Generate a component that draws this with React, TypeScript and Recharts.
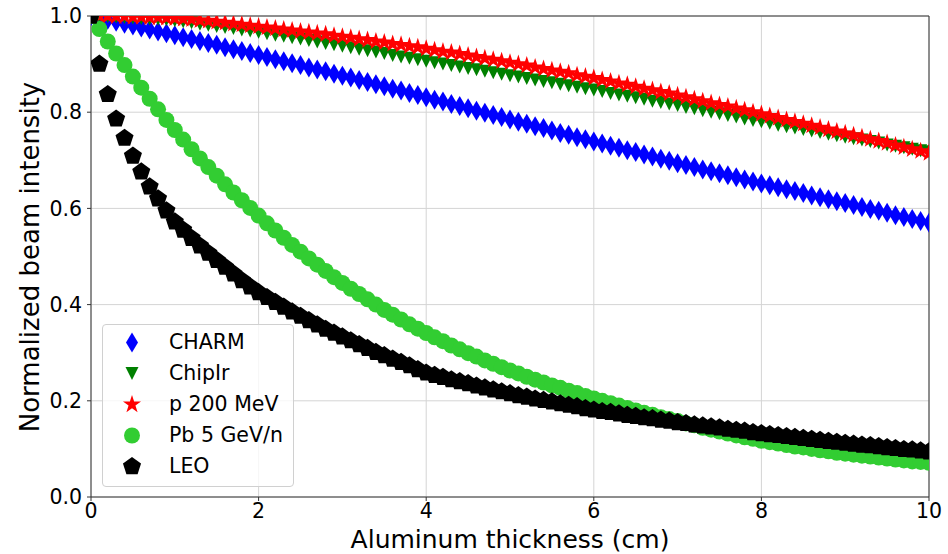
import React from "react";
import { ScatterChart, Scatter, XAxis, YAxis, CartesianGrid, ReferenceLine, Label } from "recharts";

// Aluminum thickness (cm), one point every 0.1 cm
const thickness = [
  0, 0.1, 0.2, 0.3, 0.4, 0.5, 0.6, 0.7, 0.8, 0.9,
  1, 1.1, 1.2, 1.3, 1.4, 1.5, 1.6, 1.7, 1.8, 1.9,
  2, 2.1, 2.2, 2.3, 2.4, 2.5, 2.6, 2.7, 2.8, 2.9,
  3, 3.1, 3.2, 3.3, 3.4, 3.5, 3.6, 3.7, 3.8, 3.9,
  4, 4.1, 4.2, 4.3, 4.4, 4.5, 4.6, 4.7, 4.8, 4.9,
  5, 5.1, 5.2, 5.3, 5.4, 5.5, 5.6, 5.7, 5.8, 5.9,
  6, 6.1, 6.2, 6.3, 6.4, 6.5, 6.6, 6.7, 6.8, 6.9,
  7, 7.1, 7.2, 7.3, 7.4, 7.5, 7.6, 7.7, 7.8, 7.9,
  8, 8.1, 8.2, 8.3, 8.4, 8.5, 8.6, 8.7, 8.8, 8.9,
  9, 9.1, 9.2, 9.3, 9.4, 9.5, 9.6, 9.7, 9.8, 9.9,
  10,
];

const charm = [
  1.0, 0.996, 0.992, 0.988, 0.984, 0.98, 0.976, 0.972, 0.968, 0.964,
  0.96, 0.956, 0.952, 0.948, 0.944, 0.94, 0.935, 0.931, 0.927, 0.923,
  0.919, 0.915, 0.91, 0.906, 0.902, 0.898, 0.893, 0.889, 0.885, 0.88,
  0.876, 0.872, 0.867, 0.863, 0.858, 0.854, 0.849, 0.845, 0.84, 0.836,
  0.831, 0.826, 0.822, 0.817, 0.813, 0.808, 0.803, 0.799, 0.794, 0.79,
  0.785, 0.78, 0.776, 0.771, 0.767, 0.762, 0.757, 0.753, 0.748, 0.744,
  0.739, 0.735, 0.73, 0.726, 0.721, 0.717, 0.712, 0.708, 0.703, 0.699,
  0.694, 0.69, 0.686, 0.681, 0.677, 0.673, 0.669, 0.665, 0.66, 0.656,
  0.652, 0.648, 0.644, 0.64, 0.636, 0.632, 0.627, 0.623, 0.619, 0.615,
  0.611, 0.607, 0.603, 0.599, 0.595, 0.591, 0.586, 0.582, 0.578, 0.574,
  0.57,
];

const chipIr = [
  1.0, 0.999, 0.999, 0.998, 0.997, 0.996, 0.995, 0.994, 0.993, 0.992,
  0.99, 0.988, 0.986, 0.983, 0.981, 0.978, 0.976, 0.974, 0.971, 0.969,
  0.966, 0.963, 0.96, 0.958, 0.955, 0.952, 0.949, 0.946, 0.943, 0.94,
  0.937, 0.934, 0.931, 0.928, 0.925, 0.922, 0.918, 0.915, 0.912, 0.909,
  0.906, 0.903, 0.9, 0.897, 0.894, 0.891, 0.888, 0.885, 0.882, 0.879,
  0.876, 0.873, 0.87, 0.867, 0.864, 0.861, 0.858, 0.855, 0.852, 0.849,
  0.846, 0.843, 0.839, 0.836, 0.833, 0.83, 0.827, 0.823, 0.82, 0.817,
  0.814, 0.81, 0.807, 0.803, 0.8, 0.797, 0.793, 0.79, 0.786, 0.783,
  0.78, 0.777, 0.773, 0.77, 0.767, 0.764, 0.761, 0.758, 0.754, 0.751,
  0.748, 0.745, 0.742, 0.739, 0.736, 0.732, 0.729, 0.726, 0.723, 0.72,
  0.718,
];

const p200 = [
  1.0, 1.0, 1.0, 0.999, 0.999, 0.998, 0.998, 0.997, 0.997, 0.996,
  0.995, 0.994, 0.993, 0.991, 0.99, 0.988, 0.986, 0.984, 0.982, 0.98,
  0.978, 0.976, 0.974, 0.972, 0.97, 0.968, 0.966, 0.964, 0.962, 0.959,
  0.957, 0.955, 0.952, 0.95, 0.947, 0.945, 0.942, 0.94, 0.937, 0.935,
  0.932, 0.929, 0.926, 0.924, 0.921, 0.918, 0.915, 0.912, 0.909, 0.906,
  0.903, 0.9, 0.897, 0.893, 0.89, 0.887, 0.884, 0.881, 0.877, 0.874,
  0.871, 0.867, 0.864, 0.86, 0.857, 0.853, 0.849, 0.846, 0.842, 0.839,
  0.835, 0.831, 0.827, 0.823, 0.819, 0.815, 0.812, 0.808, 0.804, 0.8,
  0.796, 0.792, 0.788, 0.784, 0.78, 0.776, 0.772, 0.768, 0.764, 0.76,
  0.756, 0.752, 0.748, 0.744, 0.74, 0.736, 0.731, 0.727, 0.723, 0.719,
  0.715,
];

const pb5 = [
  1.0, 0.973, 0.947, 0.922, 0.898, 0.874, 0.851, 0.828, 0.806, 0.784,
  0.763, 0.743, 0.723, 0.704, 0.686, 0.668, 0.65, 0.633, 0.617, 0.601,
  0.585, 0.569, 0.554, 0.539, 0.524, 0.51, 0.496, 0.483, 0.47, 0.457,
  0.445, 0.433, 0.422, 0.411, 0.4, 0.389, 0.379, 0.369, 0.359, 0.35,
  0.341, 0.332, 0.324, 0.315, 0.307, 0.299, 0.292, 0.284, 0.277, 0.27,
  0.263, 0.257, 0.25, 0.244, 0.238, 0.232, 0.227, 0.221, 0.216, 0.21,
  0.205, 0.2, 0.195, 0.19, 0.185, 0.18, 0.175, 0.171, 0.166, 0.162,
  0.158, 0.153, 0.149, 0.144, 0.14, 0.136, 0.132, 0.128, 0.124, 0.121,
  0.117, 0.114, 0.111, 0.108, 0.105, 0.103, 0.1, 0.097, 0.095, 0.092,
  0.09, 0.088, 0.086, 0.084, 0.082, 0.08, 0.078, 0.076, 0.074, 0.073,
  0.071,
];

const leo = [
  1.0, 0.9, 0.837, 0.786, 0.746, 0.709, 0.676, 0.645, 0.62, 0.595,
  0.572, 0.555, 0.538, 0.522, 0.507, 0.492, 0.478, 0.464, 0.45, 0.437,
  0.425, 0.415, 0.405, 0.395, 0.385, 0.376, 0.367, 0.358, 0.349, 0.341,
  0.333, 0.325, 0.317, 0.309, 0.301, 0.294, 0.287, 0.28, 0.273, 0.265,
  0.258, 0.253, 0.249, 0.244, 0.24, 0.236, 0.231, 0.227, 0.223, 0.219,
  0.215, 0.211, 0.208, 0.204, 0.201, 0.198, 0.194, 0.191, 0.188, 0.184,
  0.181, 0.178, 0.176, 0.173, 0.17, 0.168, 0.165, 0.163, 0.16, 0.158,
  0.155, 0.153, 0.15, 0.148, 0.146, 0.144, 0.141, 0.139, 0.137, 0.134,
  0.132, 0.13, 0.128, 0.126, 0.124, 0.122, 0.12, 0.118, 0.116, 0.114,
  0.112, 0.11, 0.108, 0.107, 0.105, 0.103, 0.101, 0.099, 0.098, 0.096,
  0.094,
];

const xTicks = [0, 2, 4, 6, 8, 10];
const yTicks = [0, 0.2, 0.4, 0.6, 0.8, 1.0];

const FONT = "DejaVu Sans";

// marker shapes (matplotlib style)
function ThinDiamond({ cx, cy, fill }: any) {
  return <path d={`M${cx},${cy - 10}L${cx + 6},${cy}L${cx},${cy + 10}L${cx - 6},${cy}Z`} fill={fill} />;
}

function TriangleDown({ cx, cy, fill }: any) {
  return <path d={`M${cx - 6.5},${cy - 6.5}L${cx + 6.5},${cy - 6.5}L${cx},${cy + 6.5}Z`} fill={fill} />;
}

function Star({ cx, cy, fill }: any) {
  const R = 9.5;
  const r = R * 0.382;
  let d = "";
  for (let k = 0; k < 10; k++) {
    const rad = k % 2 === 0 ? R : r;
    const a = (-90 + k * 36) * (Math.PI / 180);
    d += `${k === 0 ? "M" : "L"}${cx + rad * Math.cos(a)},${cy + rad * Math.sin(a)}`;
  }
  return <path d={d + "Z"} fill={fill} />;
}

function Dot({ cx, cy, fill }: any) {
  return <circle cx={cx} cy={cy} r={8} fill={fill} />;
}

function Pentagon({ cx, cy, fill }: any) {
  const R = 9.5;
  let d = "";
  for (let k = 0; k < 5; k++) {
    const a = (-90 + k * 72) * (Math.PI / 180);
    d += `${k === 0 ? "M" : "L"}${cx + R * Math.cos(a)},${cy + R * Math.sin(a)}`;
  }
  return <path d={d + "Z"} fill={fill} />;
}

const series = [
  { name: "CHARM", values: charm, color: "#0000ff", Shape: ThinDiamond },
  { name: "ChipIr", values: chipIr, color: "#008000", Shape: TriangleDown },
  { name: "p 200 MeV", values: p200, color: "#ff0000", Shape: Star },
  { name: "Pb 5 GeV/n", values: pb5, color: "#32cd32", Shape: Dot },
  { name: "LEO", values: leo, color: "#000000", Shape: Pentagon },
];

function LegendBox() {
  return (
    <div
      style={{
        position: "absolute",
        left: 102,
        top: 324,
        width: 190,
        height: 161,
        border: "1px solid #d0d0d0",
        borderRadius: 4,
        background: "rgba(255,255,255,0.8)",
        fontFamily: FONT,
        fontSize: 20.5,
        color: "#000",
      }}
    >
      {series.map((s, i) => (
        <div key={s.name} style={{ position: "absolute", left: 0, top: 2 + i * 31, height: 31, width: 190 }}>
          <svg width={60} height={31} style={{ position: "absolute", left: 0, top: 0 }}>
            <s.Shape cx={29} cy={15.5} fill={s.color} />
          </svg>
          <span style={{ position: "absolute", left: 66, top: 2, lineHeight: "26px", whiteSpace: "nowrap" }}>{s.name}</span>
        </div>
      ))}
    </div>
  );
}

export default function App() {
  const tickStyle = { fill: "#000", fontSize: 20.5, fontFamily: FONT };
  return (
    <div style={{ position: "relative", width: 948, height: 554, background: "#fff" }}>
      <style>{"body{margin:0}"}</style>
      <ScatterChart width={948} height={554} margin={{ top: 16, right: 19, bottom: 0, left: 0 }}>
        <CartesianGrid stroke="#d4d4d4" strokeWidth={1} />
        <XAxis
          type="number"
          dataKey="x"
          domain={[0, 10]}
          ticks={xTicks}
          allowDataOverflow
          height={57}
          tick={tickStyle}
          tickSize={4}
          tickMargin={2}
          stroke="#333"
          tickFormatter={(v: number) => String(v)}
        >
          <Label
            content={() => (
              <text x={510} y={539} textAnchor="middle" dominantBaseline="central" fontSize={25} fontFamily={FONT} fill="#000">
                Aluminum thickness (cm)
              </text>
            )}
          />
        </XAxis>
        <YAxis
          type="number"
          dataKey="y"
          domain={[0, 1]}
          ticks={yTicks}
          allowDataOverflow
          width={91}
          tick={tickStyle}
          tickSize={4}
          tickMargin={5}
          stroke="#333"
          tickFormatter={(v: number) => v.toFixed(1)}
        >
          <Label
            content={() => (
              <text
                x={30}
                y={257}
                transform="rotate(-90 30 257)"
                textAnchor="middle"
                dominantBaseline="central"
                fontSize={26}
                fontFamily={FONT}
                fill="#000"
              >
                Normalized beam intensity
              </text>
            )}
          />
        </YAxis>
        {series.map((s) => (
          <Scatter
            key={s.name}
            name={s.name}
            data={thickness.map((x, i) => ({ x, y: s.values[i] }))}
            fill={s.color}
            shape={(p: any) => <s.Shape cx={p.cx} cy={p.cy} fill={s.color} />}
            isAnimationActive={false}
          />
        ))}
        <ReferenceLine y={1} stroke="#333" strokeWidth={1} />
        <ReferenceLine x={10} stroke="#333" strokeWidth={1} />
      </ScatterChart>
      <LegendBox />
    </div>
  );
}
